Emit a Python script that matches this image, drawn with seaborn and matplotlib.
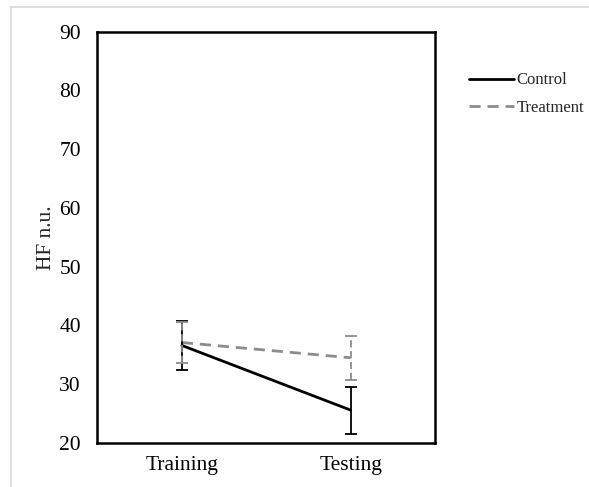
import matplotlib
matplotlib.use('Agg')
import matplotlib.pyplot as plt
import pandas as pd
import seaborn as sns
from matplotlib.lines import Line2D

phases = ['Training', 'Testing']
control_mean = [36.6, 25.6]
control_err = [4.1, 4.0]
treatment_mean = [37.1, 34.5]
treatment_err = [3.5, 3.7]

df = pd.DataFrame({
    'phase': phases * 2,
    'group': ['Control'] * 2 + ['Treatment'] * 2,
    'hf': control_mean + treatment_mean,
})

sns.set_style('white')
plt.rcParams['font.family'] = ['Liberation Serif', 'DejaVu Serif']

fig = plt.figure(figsize=(5.89, 4.87), dpi=100)
ax = fig.add_axes([0.1655, 0.0903, 0.573, 0.845])

pos = [0, 1]
df['x'] = df['phase'].map(dict(zip(phases, pos)))
sns.lineplot(data=df, x='x', y='hf', hue='group', style='group',
             palette={'Control': 'black', 'Treatment': '#8c8c8c'},
             dashes={'Control': '', 'Treatment': (4, 2.5)},
             linewidth=2, ax=ax, legend=False)

ax.errorbar(pos, control_mean, yerr=control_err, fmt='none', ecolor='black',
            elinewidth=1.3, capsize=4, capthick=1.3)
eb2 = ax.errorbar(pos, treatment_mean, yerr=treatment_err, fmt='none', ecolor='#8c8c8c',
                  elinewidth=1.3, capsize=4, capthick=1.3)
eb2[2][0].set_linestyle((0, (4, 2)))

ax.set_xlim(-0.5, 1.5)
ax.set_ylim(20, 90)
ax.set_yticks(range(20, 91, 10))
ax.set_xticks(pos)
ax.set_xticklabels(phases)
ax.set_xlabel('')
ax.set_ylabel('HF n.u.', fontsize=15.5, labelpad=2)
ax.tick_params(axis='both', labelsize=15.5, colors='black')
ax.tick_params(axis='y', length=0, pad=12)
ax.tick_params(axis='x', length=6, width=1, direction='inout', pad=6)
for s in ax.spines.values():
    s.set_color('black')
    s.set_linewidth(1.8)

handles = [Line2D([], [], color='black', lw=2),
           Line2D([], [], color='#8c8c8c', lw=2, dashes=(4, 2.5))]
fig.legend(handles, ['Control', 'Treatment'], loc='upper left',
           bbox_to_anchor=(0.771, 0.882), frameon=False, fontsize=12,
           handlelength=2.7, handletextpad=0.15, labelspacing=0.7)

fig.add_artist(Line2D([0.018, 1.0], [0.986, 0.986], color='#d8d8d8', lw=1.2))
fig.add_artist(Line2D([0.018, 0.018], [0.0, 0.986], color='#d8d8d8', lw=1.2))

fig.savefig('out.png', dpi=100)
